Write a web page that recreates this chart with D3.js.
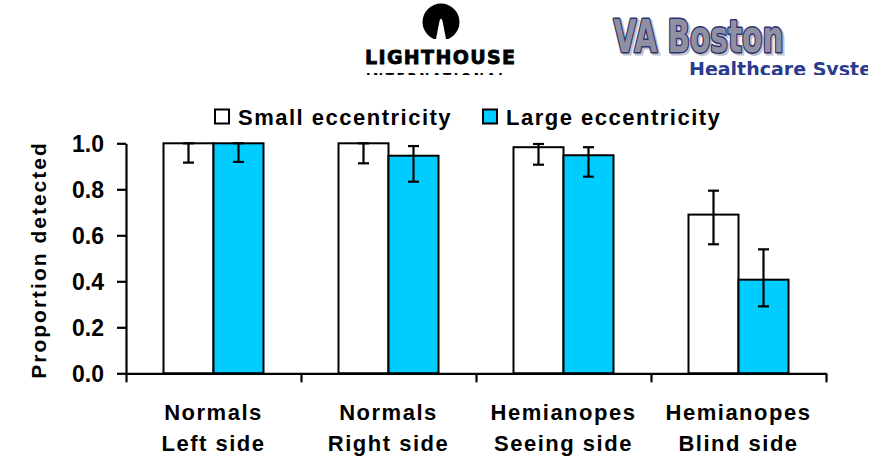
<!DOCTYPE html>
<html>
<head>
<meta charset="utf-8">
<script src="https://cdn.jsdelivr.net/npm/d3@7"></script>
<style>
  body { margin: 0; background: #fff; }
  text { font-family: "Liberation Sans", Arial, sans-serif; font-weight: bold; }
</style>
</head>
<body>
<div class="chart"></div>
<script>
// data
const groups = ["Normals|Left side", "Normals|Right side", "Hemianopes|Seeing side", "Hemianopes|Blind side"];
const seriesNames = ["Small eccentricity", "Large eccentricity"];
const seriesColors = ["#ffffff", "#00ccff"];
const smallVals = [1.0, 1.0, 0.983, 0.690];
const smallLow = [0.916, 0.913, 0.907, 0.561];
const smallHigh = [1.0, 1.0, 0.997, 0.794];
const largeVals = [1.0, 0.946, 0.948, 0.407];
const largeLow = [0.919, 0.833, 0.855, 0.291];
const largeHigh = [1.0, 0.988, 0.983, 0.539];
const yTicks = [0, 0.2, 0.4, 0.6, 0.8, 1.0];

const rows = [];
groups.forEach((g, i) => {
    rows.push({group: g, s: 0, v: smallVals[i], lo: smallLow[i], hi: smallHigh[i]});
    rows.push({group: g, s: 1, v: largeVals[i], lo: largeLow[i], hi: largeHigh[i]});
});

const W = 884, H = 459;
const svg = d3.select(".chart").append("svg")
    .attr("width", W).attr("height", H);

//scales
const x0 = 126, x1 = 826, yBottom = 373.3, yTop = 143.3;
const xScale = d3.scaleBand().domain(groups).range([x0, x1]).padding(0);
const xSub = d3.scaleBand().domain([0, 1]).range([37.5, 137.5]).padding(0);
const xEdge = d3.scaleLinear().domain([0, groups.length]).range([x0, x1]);
const yScale = d3.scaleLinear().domain([0, 1]).range([yBottom, yTop]);

//bars
svg.selectAll(".bar")
    .data(rows)
    .enter()
    .append("rect")
    .attr("class", "bar")
    .attr("x", d => xScale(d.group) + xSub(d.s))
    .attr("y", d => yScale(d.v))
    .attr("width", xSub.bandwidth())
    .attr("height", d => yScale(0) - yScale(d.v))
    .attr("fill", d => seriesColors[d.s])
    .attr("stroke", "#000")
    .attr("stroke-width", 2);

//error bars
const cap = 5.5;
const err = svg.append("g").attr("stroke", "#000").attr("stroke-width", 2.2);
rows.forEach(d => {
    const cx = xScale(d.group) + xSub(d.s) + xSub.bandwidth() / 2;
    err.append("line").attr("x1", cx).attr("x2", cx)
        .attr("y1", yScale(d.hi)).attr("y2", yScale(d.lo));
    err.append("line").attr("x1", cx - cap).attr("x2", cx + cap)
        .attr("y1", yScale(d.hi)).attr("y2", yScale(d.hi));
    err.append("line").attr("x1", cx - cap).attr("x2", cx + cap)
        .attr("y1", yScale(d.lo)).attr("y2", yScale(d.lo));
});

//axes
const yAxis = d3.axisLeft(yScale).tickValues(yTicks)
    .tickFormat(d3.format(".1f")).tickSize(9).tickSizeOuter(0).tickPadding(13);
const xAxis = d3.axisBottom(xEdge).ticks(groups.length)
    .tickFormat("").tickSize(9).tickSizeOuter(0);

const gy = svg.append("g").attr("transform", `translate(${x0},0)`).call(yAxis);
const gx = svg.append("g").attr("transform", `translate(0,${yBottom})`).call(xAxis);
[gy, gx].forEach(g => {
    g.selectAll("path, line").attr("stroke", "#000").attr("stroke-width", 2.2);
});
gy.selectAll("text")
    .style("font-size", "23px").attr("dy", "0.36em").attr("fill", "#000");

//category labels
const cats = svg.append("g");
groups.forEach(g => {
    const parts = g.split("|");
    const cx = xScale(g) + xScale.bandwidth() / 2;
    parts.forEach((p, k) => {
        cats.append("text")
            .attr("x", cx)
            .attr("y", 420 + k * 31)
            .attr("text-anchor", "middle")
            .style("font-size", "22px")
            .style("letter-spacing", "1.5px")
            .text(p);
    });
});

//y title
svg.append("text")
    .attr("transform", "translate(46,260) rotate(-90)")
    .attr("text-anchor", "middle")
    .style("font-size", "21px")
    .style("letter-spacing", "2px")
    .text("Proportion detected");

//legend
const legX = [215, 483];
seriesNames.forEach((name, i) => {
    svg.append("rect")
        .attr("x", legX[i]).attr("y", 109.5)
        .attr("width", 14).attr("height", 14)
        .attr("fill", seriesColors[i])
        .attr("stroke", "#000").attr("stroke-width", 2);
    svg.append("text")
        .attr("x", legX[i] + 23).attr("y", 125)
        .style("font-size", "22px")
        .style("letter-spacing", "1.5px")
        .text(name);
});

//logos (clipped like the source picture)
svg.append("clipPath").attr("id", "logoclip")
    .append("rect").attr("x", 0).attr("y", 0).attr("width", 868).attr("height", 75);
const logos = svg.append("g").attr("clip-path", "url(#logoclip)");

svg.append("clipPath").attr("id", "lampclip")
    .append("rect").attr("x", 400).attr("y", 0).attr("width", 80).attr("height", 39);
logos.append("circle")
    .attr("cx", 441).attr("cy", 22).attr("r", 18.5)
    .attr("fill", "#000").attr("clip-path", "url(#lampclip)");
logos.append("path")
    .attr("d", "M439.5,21 Q441,16.5 442.5,21 L446,39 L436,39 Z")
    .attr("fill", "#fff");
logos.append("text")
    .attr("x", 365).attr("y", 64)
    .style("font-family", "'DejaVu Sans', sans-serif")
    .style("font-weight", "900")
    .style("font-size", "19px")
    .attr("textLength", 150).attr("lengthAdjust", "spacing")
    .attr("fill", "#000")
    .attr("stroke", "#000").attr("stroke-width", 0.8)
    .text("LIGHTHOUSE");
logos.append("text")
    .attr("x", 366).attr("y", 82)
    .style("font-family", "'DejaVu Sans', sans-serif")
    .style("font-size", "12px")
    .attr("textLength", 140).attr("lengthAdjust", "spacing")
    .attr("fill", "#000")
    .text("INTERNATIONAL");

// VA Boston
const vaFont = "'DejaVu Sans Condensed', 'DejaVu Sans', sans-serif";
logos.append("text")
    .attr("x", 615.5).attr("y", 53.5)
    .style("font-family", vaFont)
    .style("font-size", "44px")
    .attr("textLength", 170).attr("lengthAdjust", "spacingAndGlyphs")
    .attr("fill", "#c4c5cf")
    .attr("stroke", "#c4c5cf").attr("stroke-width", 3)
    .text("VA Boston");
logos.append("text")
    .attr("x", 613.5).attr("y", 51.7)
    .style("font-family", vaFont)
    .style("font-size", "44px")
    .style("paint-order", "stroke")
    .attr("textLength", 170).attr("lengthAdjust", "spacingAndGlyphs")
    .attr("fill", "#8f90a2")
    .attr("stroke", "#2e3270").attr("stroke-width", 3)
    .attr("stroke-linejoin", "round")
    .text("VA Boston");
logos.append("text")
    .attr("x", 689).attr("y", 76)
    .style("font-family", "'DejaVu Sans', sans-serif")
    .style("font-size", "19px")
    .attr("fill", "#2b3b8e")
    .text("Healthcare System");
</script>
</body>
</html>
